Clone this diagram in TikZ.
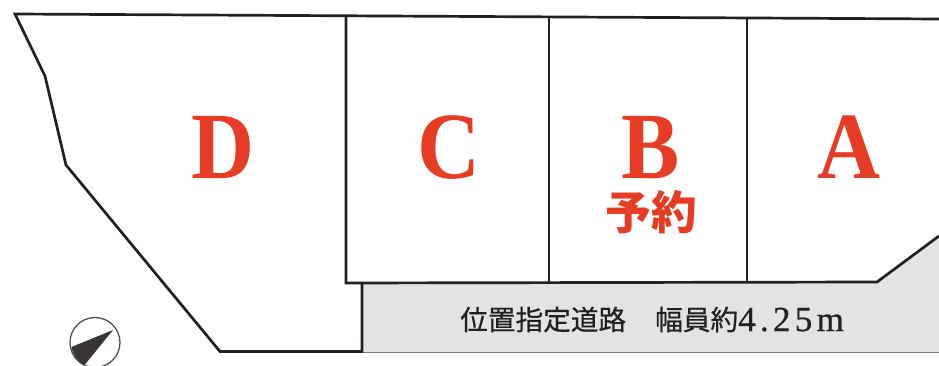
\documentclass[tikz,border=0pt]{standalone}
\usepackage{fontspec}
\setmainfont{Liberation Serif}
\newfontfamily\cjkfont{Noto Sans CJK JP}
\newfontfamily\lotfont[FakeStretch=0.92]{Liberation Serif}
\newfontfamily\roadcjk[FakeBold=0.6]{Noto Sans CJK JP}
\newfontfamily\roadnum[LetterSpace=12,FakeBold=0.6]{Liberation Serif}
\definecolor{lotred}{HTML}{E63B24}
\definecolor{roadgray}{HTML}{E3E3E3}
\definecolor{linedark}{HTML}{231F20}
\tikzset{
  lotline/.style={draw=linedark, line width=2.3pt, line join=miter},
  lotletter/.style={text=lotred, font=\lotfont\fontsize{81}{81}\selectfont\bfseries, inner sep=0pt, anchor=base},
  lotnote/.style={text=lotred, font=\cjkfont\fontsize{39}{39}\selectfont\bfseries, inner sep=0pt, anchor=base, text height=31pt, text depth=0pt},
  roadtext/.style={text=linedark, inner sep=0pt, anchor=base west}
}
\begin{document}
\begin{tikzpicture}[x=0.03cm, y=-0.03cm]
  \useasboundingbox (0,0) rectangle (939,366);

  % Road
  \fill[roadgray] (362,283) -- (877,282) -- (939,236) -- (939,352) -- (362,352) -- cycle;
  \draw[linedark!60, line width=0.9pt] (362,352.5) -- (939,352.5);

  % Outer boundary
  \draw[lotline] (939,19) -- (15,14) -- (45,76) -- (66,165) -- (220,351.5) -- (362,351.5) -- (362,283);
  \draw[lotline] (346,16) -- (346,283) -- (877,282) -- (939,236);

  % Lot dividers
  \foreach \x/\ytop in {549/17, 747/18} {
    \draw[lotline] (\x,\ytop) -- (\x,283);
  }

  % Lot letters
  \node[lotletter] (lotD) at (223,178) {D};
  \node[lotletter] (lotC) at (449.5,178) {C};
  \node[lotletter] (lotB) at (651,178) {B};
  \node[lotletter] (lotA) at (849,178) {A};
  \node[lotnote] (noteB) at (651,229) {予約};

  % Road label
  \node[roadtext, font=\roadcjk\fontsize{23.6}{23.6}\selectfont] (roadlabel) at (460,330) {位置指定道路};
  \node[roadtext, font=\roadcjk\fontsize{23.6}{23.6}\selectfont] (roadwidth) at (655,330) {幅員約};
  \node[roadtext, font=\roadnum\fontsize{30}{30}\selectfont] (roadvalue) at (738,331) {4.25m};

  % Compass
  \draw[linedark!80, line width=1.1pt] (95,342.5) circle (25);
  \fill[linedark!90] (113,330) -- (71.5,347) arc[start angle=189, end angle=242, x radius=25, y radius=-25] -- cycle;
\end{tikzpicture}
\end{document}
